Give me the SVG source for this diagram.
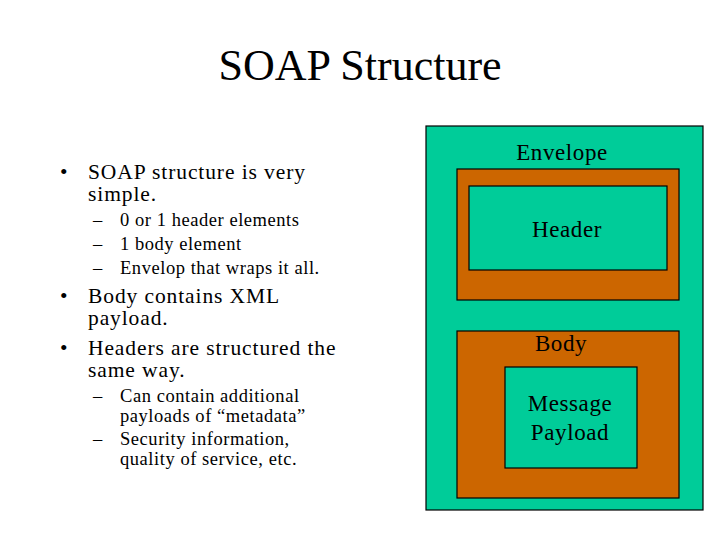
<svg xmlns="http://www.w3.org/2000/svg" width="720" height="540" viewBox="0 0 720 540">
<style>
text{font-family:"Liberation Serif","Times New Roman",serif;fill:#000}
.t{font-size:44px;text-anchor:middle}
.b{font-size:21.5px;letter-spacing:0.9px}
.s{font-size:18.5px;letter-spacing:0.55px}
.l{font-size:23px;letter-spacing:0.6px;text-anchor:middle}
.teal{fill:#00CC99;stroke:#000;stroke-width:1.2}
.org{fill:#CC6600;stroke:#000;stroke-width:1.2}
</style>
<rect width="720" height="540" fill="#fff"/>
<text class="t" x="360" y="80">SOAP Structure</text>
<g id="bullets">
<text class="b" x="60" y="179">•</text>
<text class="b" x="88" y="179">SOAP structure is very</text>
<text class="b" x="88" y="201">simple.</text>
<text class="s" x="93" y="226">–</text>
<text class="s" x="120" y="226">0 or 1 header elements</text>
<text class="s" x="93" y="250">–</text>
<text class="s" x="120" y="250">1 body element</text>
<text class="s" x="93" y="274">–</text>
<text class="s" x="120" y="274">Envelop that wraps it all.</text>
<text class="b" x="60" y="303">•</text>
<text class="b" x="88" y="303">Body contains XML</text>
<text class="b" x="88" y="325">payload.</text>
<text class="b" x="60" y="355">•</text>
<text class="b" x="88" y="355">Headers are structured the</text>
<text class="b" x="88" y="377">same way.</text>
<text class="s" x="93" y="402">–</text>
<text class="s" x="120" y="402">Can contain additional</text>
<text class="s" x="120" y="422">payloads of “metadata”</text>
<text class="s" x="93" y="445">–</text>
<text class="s" x="120" y="445">Security information,</text>
<text class="s" x="120" y="465">quality of service, etc.</text>
</g>
<g id="envelope">
<rect class="teal" x="426" y="126" width="277" height="384"/>
<text class="l" x="562" y="160">Envelope</text>
</g>
<g id="header">
<rect class="org" x="457" y="169" width="222" height="131"/>
<rect class="teal" x="469" y="186" width="198" height="84"/>
<text class="l" x="567" y="237">Header</text>
</g>
<g id="body">
<rect class="org" x="457" y="331" width="222" height="167"/>
<text class="l" x="561" y="351">Body</text>
<rect class="teal" x="505" y="367" width="132" height="101"/>
<text class="l" x="570" y="411">Message</text>
<text class="l" x="570" y="440">Payload</text>
</g>
<g id="connectors"/>
</svg>
